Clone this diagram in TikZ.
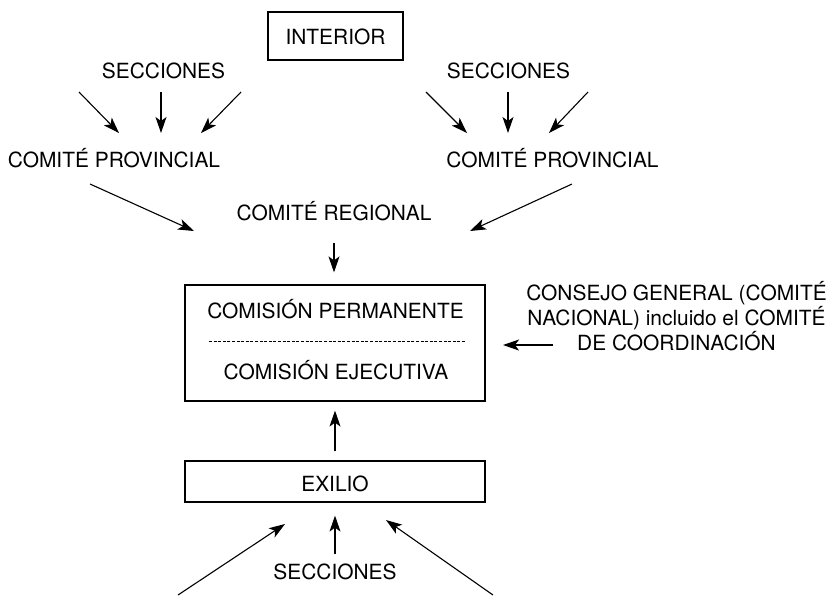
\documentclass[tikz,border=0pt]{standalone}
\usepackage{fontspec}
\setmainfont{TeX Gyre Heros}
\usetikzlibrary{arrows.meta}

\begin{document}
\begin{tikzpicture} [x=0.5pt, y=-0.5pt, font=\fontsize{10.45}{12.5}\selectfont,
  flecha/.style={-{Stealth[length=8pt,width=5.5pt,inset=2pt]}, line width=0.55pt},
  caja/.style={draw, line width=0.6pt, inner sep=0pt},
  texto/.style={inner sep=0pt, anchor=base}]

\useasboundingbox (0,0) rectangle (833,596);

\node[caja, minimum width=67.5pt, minimum height=24pt] (interior) at (335.5,36) {};
\node[texto] at (335.5,44.5) {INTERIOR};

\node[texto] (secL) at (163.5,78) {SECCIONES};
\node[texto] (secR) at (508.5,78) {SECCIONES};
\node[texto] (provL) at (114,167) {COMITÉ PROVINCIAL};
\node[texto] (provR) at (552.5,167) {COMITÉ PROVINCIAL};
\node[texto] (regional) at (334,220) {COMITÉ REGIONAL};

\node[caja, minimum width=150pt, minimum height=58pt] (comision) at (335,343) {};
\node[texto] (permanente) at (335.5,318.5) {COMISIÓN PERMANENTE};
\node[texto] (ejecutiva) at (336,379) {COMISIÓN EJECUTIVA};
\draw[line width=0.4pt, dash pattern=on 1.5pt off 0.8pt] (209,341) -- (465,341);

\node[texto, align=center] (consejo) at (676.5,350.5) {CONSEJO GENERAL (COMITÉ\\NACIONAL) incluido el COMITÉ\\DE COORDINACIÓN};

\node[caja, minimum width=150pt, minimum height=20.5pt] (exilio) at (335,481.5) {};
\node[texto] at (335,491) {EXILIO};
\node[texto] (secB) at (335,579) {SECCIONES};

% secciones del interior
\coordinate (sL1) at (79,92);   \coordinate (pL1) at (119,133);
\coordinate (sL2) at (161,92);  \coordinate (pL2) at (161,133);
\coordinate (sL3) at (241,92);  \coordinate (pL3) at (201,133);
\coordinate (sR1) at (426,92);  \coordinate (pR1) at (467,133);
\coordinate (sR2) at (508,92);  \coordinate (pR2) at (508,133);
\coordinate (sR3) at (588,92);  \coordinate (pR3) at (549,133);
\draw[flecha] (sL1)--(pL1);
\draw[flecha] (sL2)--(pL2);
\draw[flecha] (sL3)--(pL3);
\draw[flecha] (sR1)--(pR1);
\draw[flecha] (sR2)--(pR2);
\draw[flecha] (sR3)--(pR3);

\coordinate (gL) at (90,184);   \coordinate (rL) at (194,231);
\coordinate (gR) at (572,184);  \coordinate (rR) at (470,231);
\draw[flecha] (gL)--(rL);
\draw[flecha] (gR)--(rR);
\draw[flecha, shorten <=11pt, shorten >=6pt] (regional.south) -- (regional.south |- comision.north);

\coordinate (cA) at (553,345);  \coordinate (cB) at (503,345);
\draw[flecha] (cA)--(cB);

\draw[flecha, shorten <=4.5pt, shorten >=4.5pt] (exilio.north) -- (comision.south);

% secciones del exilio
\coordinate (bL) at (178,595);  \coordinate (eL) at (285,524);
\coordinate (bR) at (493,595);  \coordinate (eR) at (386,520);
\draw[flecha] (bL)--(eL);
\draw[flecha] (bR)--(eR);
\draw[flecha, shorten <=4.5pt, shorten >=6.5pt] (secB.north) -- (secB.north |- exilio.south);

\end{tikzpicture}
\end{document}
